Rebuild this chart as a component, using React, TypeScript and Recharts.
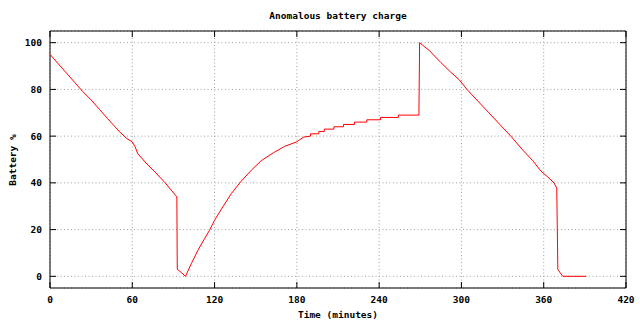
import React from "react";
import { LineChart, Line, XAxis, YAxis, CartesianGrid, ReferenceArea } from "recharts";

// minutes since start
const minutes = [
  0, 6, 12, 18, 24, 30, 36, 42, 51, 56, 60, 62, 64, 70, 76, 84, 92.5,
  92.8, 95, 98.8, 103, 107.8, 112.7, 116.3, 120, 126, 132.2, 139.5, 146.8, 154,
  162.7, 171, 179.7, 185, 190, 190, 196, 196, 200, 200, 207, 207, 214, 214,
  222, 222, 231, 231, 241, 241, 254, 254, 269,
  269.5, 277, 285, 292, 298.6, 304, 312, 320, 328, 336, 344, 352, 358, 363,
  367.5, 369.5, 370.3, 372, 374, 391,
];

// battery %
const charge = [
  95, 91, 87, 83, 79, 75.5, 71.5, 67.5, 61.7, 59, 57.5, 55.5, 52.5, 48.5, 45, 40, 34,
  3, 2, 0, 5.4, 11.1, 16.1, 19.7, 24, 29.7, 35.4, 40.8, 45.4, 49.5,
  52.8, 55.6, 57.5, 59.6, 60, 61, 61, 62, 62, 63, 63, 64, 64, 65,
  65, 66, 66, 67, 67, 68, 68, 69, 69,
  100, 96.4, 91.5, 87.5, 84, 80, 75, 70, 65, 60, 54.5, 49.5, 45, 42.5,
  40, 37.7, 3, 1.5, 0, 0,
];

const xTicks = [0, 60, 120, 180, 240, 300, 360, 420];
const yTicks = [0, 20, 40, 60, 80, 100];

const data = minutes.map((t, i) => ({ t, pct: charge[i] }));

const FONT = "'DejaVu Sans Mono', monospace";
const LEFT = 50;
const RIGHT = 626;
const TOP = 31;
const BOTTOM = 288;

const textStyle = { fontFamily: FONT, fontSize: 9.5, fontWeight: "bold" as const, fill: "#000" };

function XTick(props: any) {
  const { x, payload } = props;
  return (
    <g>
      <line x1={x} x2={x} y1={BOTTOM} y2={BOTTOM - 6} stroke="#000" />
      <line x1={x} x2={x} y1={TOP} y2={TOP + 6} stroke="#000" />
      <text x={x} y={299} textAnchor="middle" dominantBaseline="central" style={textStyle}>
        {payload.value}
      </text>
    </g>
  );
}

function YTick(props: any) {
  const { y, payload } = props;
  return (
    <g>
      <line x1={LEFT} x2={LEFT + 6} y1={y} y2={y} stroke="#000" />
      <line x1={RIGHT} x2={RIGHT - 6} y1={y} y2={y} stroke="#000" />
      <text x={42} y={y} textAnchor="end" dominantBaseline="central" style={textStyle}>
        {payload.value}
      </text>
    </g>
  );
}

export default function App() {
  return (
    <div style={{ position: "absolute", left: 0, top: 0, background: "#fff" }}>
      <LineChart
        width={640}
        height={320}
        data={data}
        margin={{ top: TOP, right: 640 - RIGHT, bottom: 0, left: 0 }}
      >
        <CartesianGrid stroke="#a0a0a0" strokeDasharray="1 2.5" />
        <XAxis
          dataKey="t"
          type="number"
          domain={[0, 420]}
          ticks={xTicks}
          tick={<XTick />}
          tickLine={false}
          axisLine={false}
          height={320 - BOTTOM}
          interval={0}
        />
        <YAxis
          type="number"
          domain={[-5, 105]}
          ticks={yTicks}
          tick={<YTick />}
          tickLine={false}
          axisLine={false}
          width={LEFT}
          interval={0}
        />
        <ReferenceArea x1={0} x2={420} y1={-5} y2={105} fill="none" stroke="#000" strokeWidth={1} />
        <Line
          type="linear"
          dataKey="pct"
          stroke="#ff0000"
          strokeWidth={1}
          dot={false}
          isAnimationActive={false}
        />
        <text x={338} y={15} textAnchor="middle" dominantBaseline="central" style={textStyle}>
          Anomalous battery charge
        </text>
        <text x={338} y={314} textAnchor="middle" dominantBaseline="central" style={textStyle}>
          Time (minutes)
        </text>
        <text
          x={12}
          y={160}
          transform="rotate(-90, 12, 160)"
          textAnchor="middle"
          dominantBaseline="central"
          style={textStyle}
        >
          Battery %
        </text>
      </LineChart>
    </div>
  );
}
